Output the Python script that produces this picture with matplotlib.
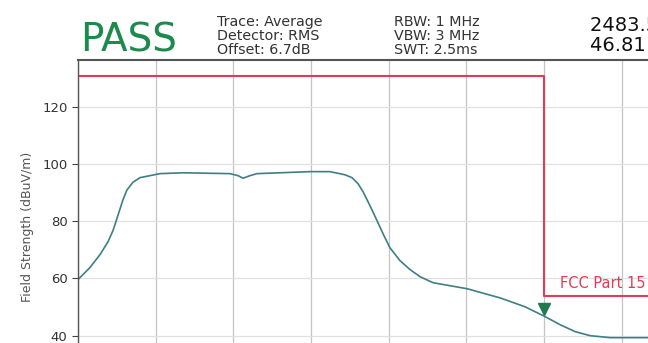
import numpy as np
import matplotlib
matplotlib.use('Agg')
import matplotlib.pyplot as plt
from matplotlib import transforms

# trace (MHz, dBuV/m)
freq = [2477.5, 2477.654, 2477.783, 2477.886, 2477.95, 2478.014, 2478.079, 2478.13,
        2478.208, 2478.298, 2478.555, 2478.851, 2479.456, 2479.559, 2479.624, 2479.714,
        2479.804, 2480.486, 2480.743, 2480.936, 2481.026, 2481.104, 2481.168, 2481.258,
        2481.348, 2481.438, 2481.515, 2481.644, 2481.773, 2481.902, 2482.069, 2482.507,
        2482.931, 2483.253, 2483.5, 2483.706, 2483.9, 2484.09, 2484.35, 2484.836]
level = [59.6, 63.8, 68.3, 72.8, 76.7, 82.0, 87.5, 90.9,
         93.6, 95.2, 96.6, 96.9, 96.6, 95.9, 95.0, 95.9,
         96.6, 97.3, 97.3, 96.2, 95.2, 93.1, 90.3, 85.4,
         80.2, 74.9, 70.7, 66.2, 63.1, 60.6, 58.5, 56.4,
         53.2, 50.1, 46.81, 43.8, 41.4, 40.0, 39.3, 39.3]

# limit line (FCC Part 15)
limit_freq = [2477.5, 2483.5, 2483.5, 2486.5]
limit_level = [130.8, 130.8, 54.0, 54.0]

marker_freq = 2483.5
marker_level = 46.81

info_left = ['Trace: Average', 'Detector: RMS', 'Offset: 6.7dB']
info_mid = ['RBW: 1 MHz', 'VBW: 3 MHz', 'SWT: 2.5ms']
marker_text = ['2483.500 MHz', '46.81 dBuV/m']

W, H = 648, 343
fig = plt.figure(figsize=(W/100, H/100), dpi=100)

# axes placed in pixel units, partly outside the canvas like the cropped screenshot
ylo, yhi = 20, 136.3
px_per_db = 2.8625
ax_left, ax_top = 78, 60
ax_w = 9*77.7
ax_h = (yhi-ylo)*px_per_db
ax = fig.add_axes([ax_left/W, (H-ax_top-ax_h)/H, ax_w/W, ax_h/H])

ax.plot(limit_freq, limit_level, color='#e23b55', lw=1.5)
ax.plot(freq, level, color='#3d7f84', lw=1.2)
off = transforms.offset_copy(ax.transData, fig=fig, y=5, units='points')
ax.plot([marker_freq], [marker_level], marker='v', color='#1f7a50', ms=8, transform=off)
ax.text(2483.705, 56.5, 'FCC Part 15', color='#e23b55', fontsize=10.5)

ax.set_xlim(2477.5, 2486.5)
ax.set_ylim(ylo, yhi)
ax.set_xticks(np.arange(2477.5, 2486.6, 1.0))
ax.set_yticks([40, 60, 80, 100, 120])
ax.grid(axis='x', color='#c4c4c4', lw=0.9)
ax.grid(axis='y', color='#e0e0e0', lw=0.9)
ax.tick_params(axis='y', labelsize=9.5, colors='#444444', length=4)
ax.tick_params(axis='y', labelcolor='#333333')
ax.tick_params(axis='x', labelbottom=False, length=0)
for s in ax.spines.values():
    s.set_color('#555555')
    s.set_linewidth(1.0)
ax.spines['top'].set_linewidth(1.5)
ax.set_ylabel('Field Strength (dBuV/m)', fontsize=9, color='#555555', labelpad=6)

def figpx(x, y):
    return x/W, 1 - y/H

fig.text(*figpx(80, 51), 'PASS', color='#1b8a4c', fontsize=28, va='baseline')
for i, t in enumerate(info_left):
    fig.text(*figpx(217, 26 + 14*i), t, color='#333333', fontsize=10.3, va='baseline')
for i, t in enumerate(info_mid):
    fig.text(*figpx(394, 26 + 14*i), t, color='#333333', fontsize=10.3, va='baseline')
for i, t in enumerate(marker_text):
    fig.text(*figpx(590, 31 + 20*i), t, color='#111111', fontsize=14, va='baseline')

fig.savefig('out.png', dpi=100)
